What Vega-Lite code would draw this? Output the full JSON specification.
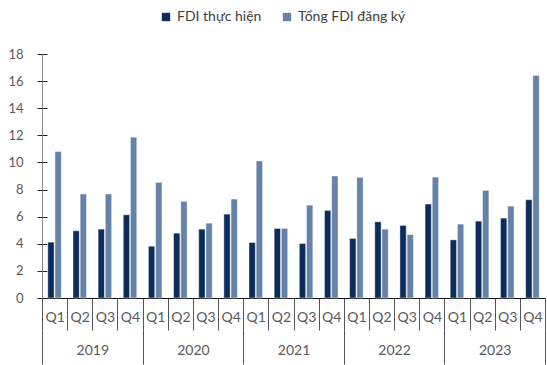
{
  "$schema": "https://vega.github.io/schema/vega-lite/v6.json",
  "width": 503,
  "height": 244,
  "autosize": {"type": "none"},
  "padding": {"left": 42, "top": 54, "right": 2, "bottom": 67},
  "background": "white",
  "config": {
    "font": "Lato",
    "view": {"stroke": null},
    "axis": {"grid": false, "labelFont": "Lato", "labelColor": "#595959", "labelFontSize": 13}
  },
  "data": {
    "values": [
      {"year": "2019", "period": "2019 Q1", "series": "FDI thực hiện", "value": 4.12},
      {"year": "2019", "period": "2019 Q1", "series": "Tổng FDI đăng ký", "value": 10.8},
      {"year": "2019", "period": "2019 Q2", "series": "FDI thực hiện", "value": 4.96},
      {"year": "2019", "period": "2019 Q2", "series": "Tổng FDI đăng ký", "value": 7.67},
      {"year": "2019", "period": "2019 Q3", "series": "FDI thực hiện", "value": 5.08},
      {"year": "2019", "period": "2019 Q3", "series": "Tổng FDI đăng ký", "value": 7.67},
      {"year": "2019", "period": "2019 Q4", "series": "FDI thực hiện", "value": 6.14},
      {"year": "2019", "period": "2019 Q4", "series": "Tổng FDI đăng ký", "value": 11.86},
      {"year": "2020", "period": "2020 Q1", "series": "FDI thực hiện", "value": 3.82},
      {"year": "2020", "period": "2020 Q1", "series": "Tổng FDI đăng ký", "value": 8.53},
      {"year": "2020", "period": "2020 Q2", "series": "FDI thực hiện", "value": 4.78},
      {"year": "2020", "period": "2020 Q2", "series": "Tổng FDI đăng ký", "value": 7.13},
      {"year": "2020", "period": "2020 Q3", "series": "FDI thực hiện", "value": 5.08},
      {"year": "2020", "period": "2020 Q3", "series": "Tổng FDI đăng ký", "value": 5.52},
      {"year": "2020", "period": "2020 Q4", "series": "FDI thực hiện", "value": 6.19},
      {"year": "2020", "period": "2020 Q4", "series": "Tổng FDI đăng ký", "value": 7.3},
      {"year": "2021", "period": "2021 Q1", "series": "FDI thực hiện", "value": 4.09},
      {"year": "2021", "period": "2021 Q1", "series": "Tổng FDI đăng ký", "value": 10.11},
      {"year": "2021", "period": "2021 Q2", "series": "FDI thực hiện", "value": 5.13},
      {"year": "2021", "period": "2021 Q2", "series": "Tổng FDI đăng ký", "value": 5.13},
      {"year": "2021", "period": "2021 Q3", "series": "FDI thực hiện", "value": 4.02},
      {"year": "2021", "period": "2021 Q3", "series": "Tổng FDI đăng ký", "value": 6.85},
      {"year": "2021", "period": "2021 Q4", "series": "FDI thực hiện", "value": 6.46},
      {"year": "2021", "period": "2021 Q4", "series": "Tổng FDI đăng ký", "value": 9.0},
      {"year": "2022", "period": "2022 Q1", "series": "FDI thực hiện", "value": 4.39},
      {"year": "2022", "period": "2022 Q1", "series": "Tổng FDI đăng ký", "value": 8.9},
      {"year": "2022", "period": "2022 Q2", "series": "FDI thực hiện", "value": 5.62},
      {"year": "2022", "period": "2022 Q2", "series": "Tổng FDI đăng ký", "value": 5.08},
      {"year": "2022", "period": "2022 Q3", "series": "FDI thực hiện", "value": 5.35},
      {"year": "2022", "period": "2022 Q3", "series": "Tổng FDI đăng ký", "value": 4.68},
      {"year": "2022", "period": "2022 Q4", "series": "FDI thực hiện", "value": 6.93},
      {"year": "2022", "period": "2022 Q4", "series": "Tổng FDI đăng ký", "value": 8.92},
      {"year": "2023", "period": "2023 Q1", "series": "FDI thực hiện", "value": 4.29},
      {"year": "2023", "period": "2023 Q1", "series": "Tổng FDI đăng ký", "value": 5.45},
      {"year": "2023", "period": "2023 Q2", "series": "FDI thực hiện", "value": 5.67},
      {"year": "2023", "period": "2023 Q2", "series": "Tổng FDI đăng ký", "value": 7.94},
      {"year": "2023", "period": "2023 Q3", "series": "FDI thực hiện", "value": 5.89},
      {"year": "2023", "period": "2023 Q3", "series": "Tổng FDI đăng ký", "value": 6.78},
      {"year": "2023", "period": "2023 Q4", "series": "FDI thực hiện", "value": 7.25},
      {"year": "2023", "period": "2023 Q4", "series": "Tổng FDI đăng ký", "value": 16.42}
    ]
  },
  "layer": [
    {
      "mark": {"type": "bar", "stroke": "white", "strokeWidth": 0.6, "strokeOpacity": 0.7},
      "encoding": {
        "x": {
          "field": "period",
          "type": "nominal",
          "sort": null,
          "scale": {"paddingInner": 0, "paddingOuter": 0},
          "axis": {
            "title": null,
            "labelAngle": 0,
            "labelExpr": "split(datum.value, ' ')[1]",
            "labelFontSize": 14,
            "tickBand": "extent",
            "tickSize": 32,
            "tickColor": "#555555",
            "domainColor": "#111111",
            "labelPadding": -20,
            "labelBaseline": "top"
          }
        },
        "xOffset": {
          "field": "series",
          "type": "nominal",
          "sort": ["FDI thực hiện", "Tổng FDI đăng ký"],
          "scale": {"paddingInner": 0.12, "paddingOuter": 0.81}
        },
        "y": {
          "field": "value",
          "type": "quantitative",
          "scale": {"domain": [0, 18], "nice": false},
          "axis": {
            "title": null,
            "values": [0, 2, 4, 6, 8, 10, 12, 14, 16, 18],
            "tickSize": 5,
            "tickColor": "#222222",
            "domainColor": "#8a8a8a",
            "labelPadding": 14
          }
        },
        "color": {
          "field": "series",
          "type": "nominal",
          "sort": ["FDI thực hiện", "Tổng FDI đăng ký"],
          "scale": {"range": ["#0b2d5a", "#6682a9"]},
          "legend": {
            "title": null,
            "orient": "none",
            "direction": "horizontal",
            "legendX": 117,
            "legendY": -44,
            "symbolType": "square",
            "symbolSize": 70,
            "symbolStrokeWidth": 0,
            "labelFontSize": 14,
            "labelColor": "#404040",
            "labelFont": "Lato",
            "columnPadding": 18
          }
        }
      }
    },
    {
      "mark": {"type": "bar", "opacity": 0},
      "encoding": {
        "x": {
          "field": "year",
          "type": "nominal",
          "scale": {"paddingInner": 0, "paddingOuter": 0},
          "axis": {
            "title": null,
            "orient": "bottom",
            "offset": 32,
            "domain": false,
            "labelAngle": 0,
            "labelFontSize": 14,
            "tickBand": "extent",
            "tickSize": 34,
            "tickColor": "#555555",
            "labelPadding": -21,
            "labelBaseline": "top"
          }
        },
        "y": {
          "field": "value",
          "type": "quantitative",
          "aggregate": "max",
          "axis": {
            "orient": "left",
            "title": null,
            "labels": false,
            "domain": false,
            "values": [0, 2, 4, 6, 8, 10, 12, 14, 16, 18],
            "tickSize": -5,
            "tickColor": "#222222"
          }
        }
      }
    }
  ],
  "resolve": {
    "scale": {"x": "independent"},
    "axis": {"x": "independent", "y": "independent"}
  }
}
